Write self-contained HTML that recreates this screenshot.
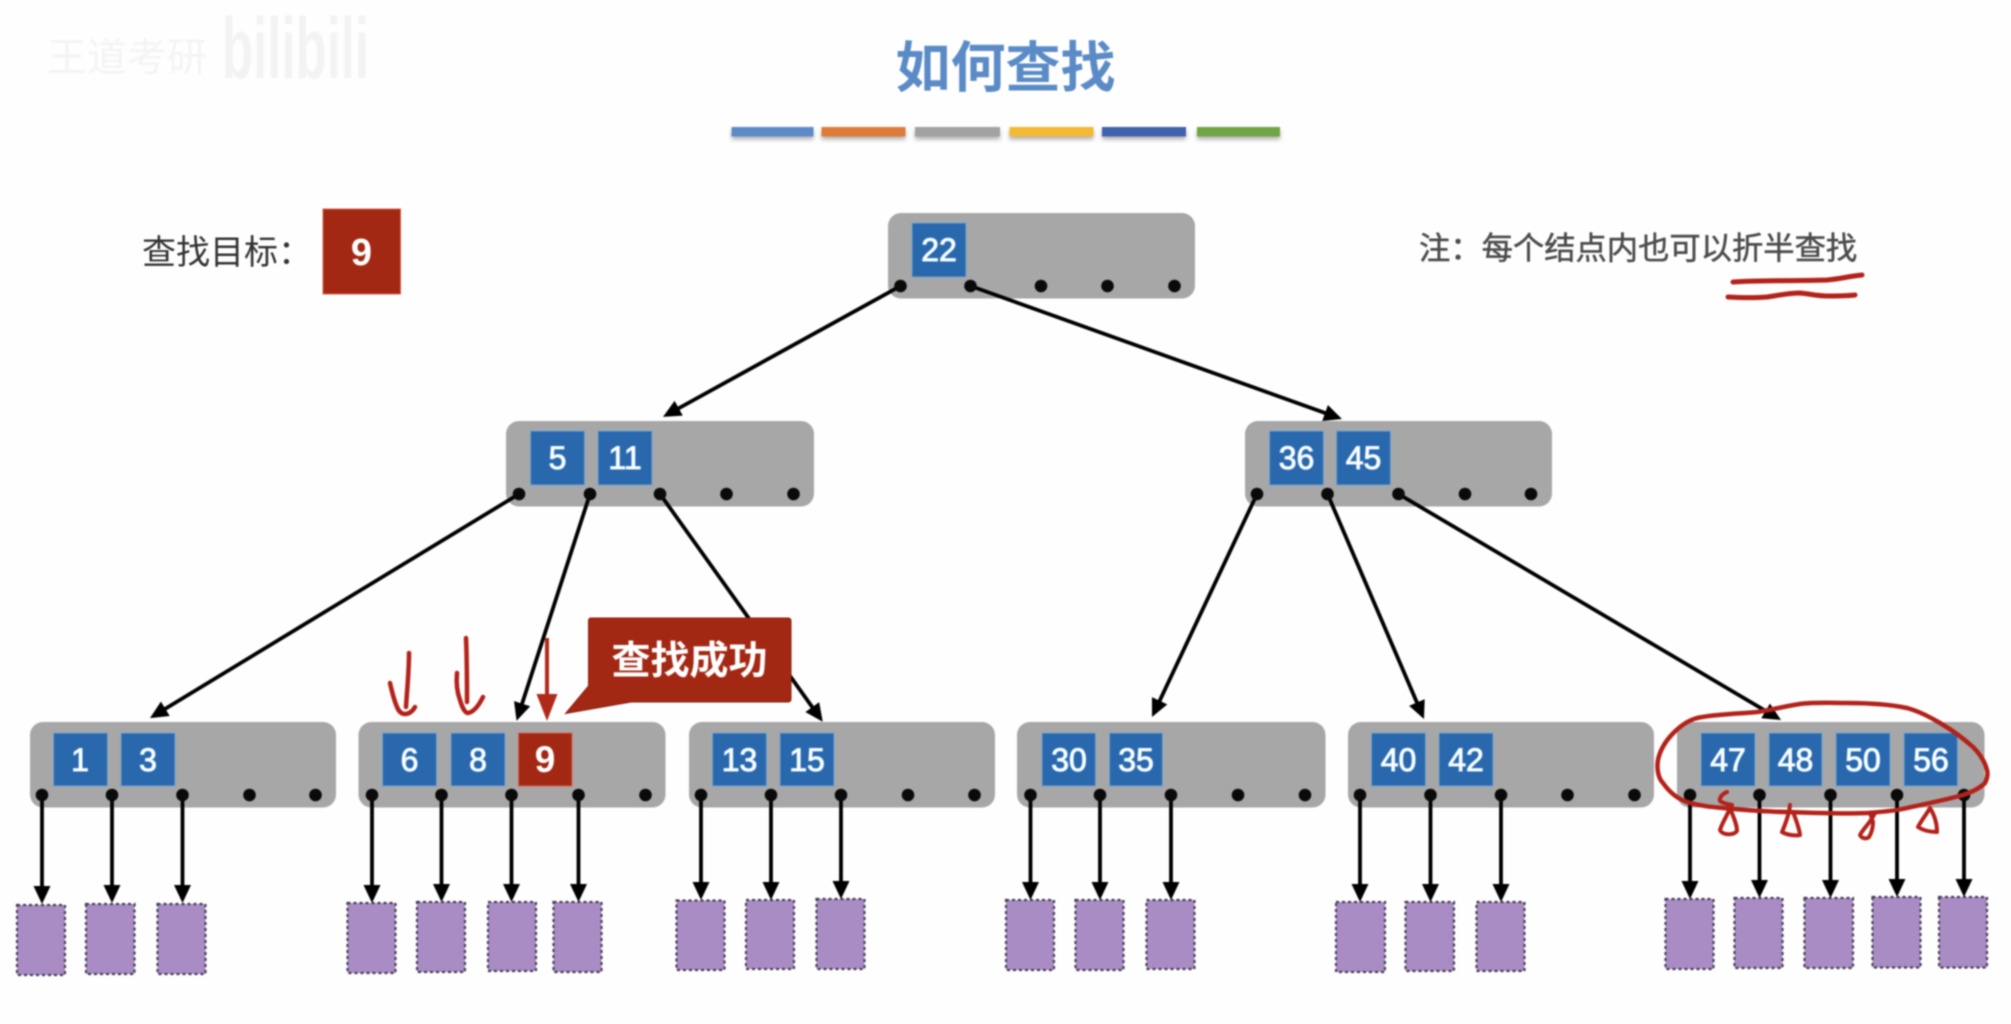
<!DOCTYPE html>
<html>
<head>
<meta charset="utf-8">
<style>
html,body{margin:0;padding:0;background:#fefefe;width:2011px;height:1024px;overflow:hidden}
svg{display:block;filter:blur(.75px)}
.cjk{font-family:"Liberation Sans","Noto Sans CJK SC",sans-serif}
.n{fill:#a7a7a7}
.k{fill:#2a68ad;stroke:#6fa3d2;stroke-width:1}
.r{fill:#a32814;stroke:#d9604f;stroke-width:1}
.t{font-family:"Liberation Sans",sans-serif;font-size:32px;fill:#fff;stroke:#e6f6ff;stroke-width:1;text-anchor:middle}
.a{stroke:#000;stroke-width:3.8;fill:none;marker-end:url(#ah)}
.p{fill:#a98cc3;stroke:#454058;stroke-width:2.2;stroke-dasharray:3 3}
.h{fill:none;stroke:#b3221a;stroke-linecap:round;stroke-linejoin:round}
</style>
</head>
<body>
<svg width="2011" height="1024" viewBox="0 0 2011 1024" xmlns="http://www.w3.org/2000/svg">
<defs>
<marker id="ah" markerUnits="userSpaceOnUse" markerWidth="20" markerHeight="20" refX="14" refY="9" orient="auto"><path d="M0,0.5 L18,9 L0,17.5 Z" fill="#000"/></marker>
<filter id="sh" x="-5%" y="-50%" width="110%" height="220%"><feDropShadow dx="0" dy="3" stdDeviation="2" flood-color="#000" flood-opacity=".3"/></filter>
</defs>

<!-- watermark -->
<text x="47" y="71" class="cjk" font-size="40" fill="#f4f4f4">王道考研</text>
<text x="222" y="78" font-family="Liberation Sans,sans-serif" font-size="86" font-weight="bold" fill="#f3f3f3" textLength="147" lengthAdjust="spacingAndGlyphs">bilibili</text>

<!-- title -->
<text x="1005.5" y="87" class="cjk" font-size="55" font-weight="bold" fill="#5b8bc6" text-anchor="middle">如何查找</text>
<g filter="url(#sh)">
<rect x="731.5" y="127" width="82" height="9.5" fill="#5b8bc8"/>
<rect x="821.5" y="127" width="84" height="9.5" fill="#dd7b38"/>
<rect x="915" y="127" width="85" height="9.5" fill="#a2a2a2"/>
<rect x="1009.5" y="127" width="84" height="9.5" fill="#f3b934"/>
<rect x="1102" y="127" width="84" height="9.5" fill="#3f62ae"/>
<rect x="1197" y="127" width="83" height="9.5" fill="#6fa544"/>
</g>

<!-- target -->
<text x="142" y="264" class="cjk" font-size="34" fill="#333">查找目标：</text>
<rect x="323" y="209" width="77.5" height="85" class="r"/>
<text x="361.5" y="265" font-family="Liberation Sans,sans-serif" font-size="38" font-weight="bold" fill="#fff" text-anchor="middle">9</text>

<!-- note -->
<text x="1419" y="259" class="cjk" font-size="31.3" fill="#4c4c4c" stroke="#4c4c4c" stroke-width=".5">注：每个结点内也可以折半查找</text>
<path d="M1733,282 C1765,280 1800,281 1827,280 C1840,279 1850,276 1862,275" class="h" stroke-width="5"/>
<path d="M1728,297 C1745,298 1755,298 1767,297 C1780,295 1790,293 1800,293 C1810,294 1818,296 1827,296 C1838,296 1846,296 1855,295" class="h" stroke-width="5"/>

<!-- nodes -->
<rect class="n" x="888" y="213" width="307" height="85.5" rx="13"/>
<rect class="n" x="506" y="421" width="308" height="85.5" rx="13"/>
<rect class="n" x="1245" y="421" width="307" height="85.5" rx="13"/>
<rect class="n" x="30" y="722" width="306" height="85.5" rx="13"/>
<rect class="n" x="358.5" y="722" width="307" height="85.5" rx="13"/>
<rect class="n" x="689" y="722" width="306" height="85.5" rx="13"/>
<rect class="n" x="1017" y="722" width="308.5" height="85.5" rx="13"/>
<rect class="n" x="1348" y="722" width="306" height="85.5" rx="13"/>
<rect class="n" x="1677" y="722" width="307.5" height="85.5" rx="13"/>

<!-- keys -->
<rect class="k" x="912" y="223" width="54" height="54"/><text class="t" x="939" y="261">22</text>
<rect class="k" x="530.5" y="431" width="54" height="54"/><text class="t" x="557.5" y="469">5</text>
<rect class="k" x="598" y="431" width="54" height="54"/><text class="t" x="625" y="469">11</text>
<rect class="k" x="1269.5" y="431" width="54" height="54"/><text class="t" x="1296.5" y="469">36</text>
<rect class="k" x="1336.5" y="431" width="54" height="54"/><text class="t" x="1363.5" y="469">45</text>

<rect class="k" x="53.5" y="733" width="54" height="53"/><text class="t" x="80" y="771">1</text>
<rect class="k" x="121" y="733" width="54" height="53"/><text class="t" x="148" y="771">3</text>
<rect class="k" x="382.5" y="733" width="54" height="53"/><text class="t" x="409.5" y="771">6</text>
<rect class="k" x="451" y="733" width="54" height="53"/><text class="t" x="478" y="771">8</text>
<rect class="r" x="518.5" y="733" width="53.5" height="53"/><text x="545" y="772" font-family="Liberation Sans,sans-serif" font-size="37" font-weight="bold" fill="#fff" text-anchor="middle">9</text>
<rect class="k" x="712.5" y="733" width="54" height="53"/><text class="t" x="739.5" y="771">13</text>
<rect class="k" x="780" y="733" width="54" height="53"/><text class="t" x="807" y="771">15</text>
<rect class="k" x="1042" y="733" width="53.5" height="53"/><text class="t" x="1069" y="771">30</text>
<rect class="k" x="1109.5" y="733" width="53" height="53"/><text class="t" x="1136" y="771">35</text>
<rect class="k" x="1371.5" y="733" width="54" height="53"/><text class="t" x="1398.5" y="771">40</text>
<rect class="k" x="1439" y="733" width="54" height="53"/><text class="t" x="1466" y="771">42</text>
<rect class="k" x="1701" y="733" width="54" height="53"/><text class="t" x="1728" y="771">47</text>
<rect class="k" x="1769" y="733" width="53" height="53"/><text class="t" x="1795.5" y="771">48</text>
<rect class="k" x="1836" y="733" width="54" height="53"/><text class="t" x="1863" y="771">50</text>
<rect class="k" x="1904" y="733" width="53.5" height="53"/><text class="t" x="1931" y="771">56</text>

<!-- leaves -->
<rect class="p" x="17" y="905" width="48" height="70"/>
<rect class="p" x="86" y="904" width="48.5" height="70"/>
<rect class="p" x="157.5" y="904" width="48" height="70"/>
<rect class="p" x="347.5" y="903" width="48" height="70"/>
<rect class="p" x="417" y="902" width="48" height="70"/>
<rect class="p" x="488" y="902" width="48" height="69"/>
<rect class="p" x="553.5" y="902" width="48" height="70"/>
<rect class="p" x="676.5" y="900.5" width="48" height="69.5"/>
<rect class="p" x="746" y="900" width="48" height="69"/>
<rect class="p" x="816.5" y="899" width="48" height="70"/>
<rect class="p" x="1006" y="900" width="48" height="70"/>
<rect class="p" x="1075.5" y="900" width="48" height="70"/>
<rect class="p" x="1146.5" y="900" width="48" height="69"/>
<rect class="p" x="1336" y="902" width="49" height="70"/>
<rect class="p" x="1405.5" y="902" width="48.5" height="69"/>
<rect class="p" x="1476.5" y="902" width="48" height="69"/>
<rect class="p" x="1665.5" y="899" width="48" height="70"/>
<rect class="p" x="1734.5" y="898" width="48" height="70"/>
<rect class="p" x="1804.5" y="898" width="48.5" height="70"/>
<rect class="p" x="1872.5" y="897" width="48" height="70.5"/>
<rect class="p" x="1939" y="897" width="48" height="70.5"/>

<!-- arrows -->
<g>
<line class="a" x1="900.5" y1="286" x2="666.5" y2="415"/>
<line class="a" x1="970.6" y1="286" x2="1338.2" y2="417.7"/>
<line class="a" x1="519" y1="494" x2="153.4" y2="716"/>
<line class="a" x1="590" y1="494" x2="517.8" y2="716.9"/>
<line class="a" x1="660" y1="494" x2="820.4" y2="718.5"/>
<line class="a" x1="1257" y1="494" x2="1153.7" y2="713.4"/>
<line class="a" x1="1327.5" y1="494" x2="1422.4" y2="715.3"/>
<line class="a" x1="1398.5" y1="494" x2="1777.6" y2="718"/>

<line class="a" x1="42" y1="795" x2="42" y2="900"/>
<line class="a" x1="112" y1="795" x2="112" y2="899"/>
<line class="a" x1="182.5" y1="795" x2="182.5" y2="899"/>
<line class="a" x1="372" y1="795" x2="372" y2="899"/>
<line class="a" x1="441.5" y1="795" x2="441.5" y2="898"/>
<line class="a" x1="511.5" y1="795" x2="511.5" y2="898"/>
<line class="a" x1="578.5" y1="795" x2="578.5" y2="898"/>
<line class="a" x1="701" y1="795" x2="701" y2="896"/>
<line class="a" x1="771" y1="795" x2="771" y2="896"/>
<line class="a" x1="841" y1="795" x2="841" y2="895"/>
<line class="a" x1="1030.5" y1="795" x2="1030.5" y2="896"/>
<line class="a" x1="1100" y1="795" x2="1100" y2="896"/>
<line class="a" x1="1171" y1="795" x2="1171" y2="896"/>
<line class="a" x1="1360" y1="795" x2="1360" y2="898"/>
<line class="a" x1="1430.5" y1="795" x2="1430.5" y2="898"/>
<line class="a" x1="1501" y1="795" x2="1501" y2="898"/>
<line class="a" x1="1690" y1="795" x2="1690" y2="895"/>
<line class="a" x1="1759.5" y1="795" x2="1759.5" y2="894"/>
<line class="a" x1="1830.5" y1="795" x2="1830.5" y2="894"/>
<line class="a" x1="1897" y1="795" x2="1897" y2="893"/>
<line class="a" x1="1964" y1="795" x2="1964" y2="893"/>
</g>

<!-- dots -->
<g fill="#0a0a0a">
<circle cx="900.5" cy="286" r="6.3"/><circle cx="970.5" cy="286" r="6.3"/><circle cx="1041" cy="286" r="6.3"/><circle cx="1107.5" cy="286" r="6.3"/><circle cx="1174.5" cy="286" r="6.3"/>
<circle cx="519" cy="494" r="6.3"/><circle cx="590" cy="494" r="6.3"/><circle cx="660" cy="494" r="6.3"/><circle cx="726.5" cy="494" r="6.3"/><circle cx="793.5" cy="494" r="6.3"/>
<circle cx="1257" cy="494" r="6.3"/><circle cx="1327.5" cy="494" r="6.3"/><circle cx="1398.5" cy="494" r="6.3"/><circle cx="1465" cy="494" r="6.3"/><circle cx="1531" cy="494" r="6.3"/>
<circle cx="42" cy="795" r="6.3"/><circle cx="112" cy="795" r="6.3"/><circle cx="182.5" cy="795" r="6.3"/><circle cx="249.5" cy="795" r="6.3"/><circle cx="315.5" cy="795" r="6.3"/>
<circle cx="372" cy="795" r="6.3"/><circle cx="441.5" cy="795" r="6.3"/><circle cx="511.5" cy="795" r="6.3"/><circle cx="578.5" cy="795" r="6.3"/><circle cx="645.5" cy="795" r="6.3"/>
<circle cx="701" cy="795" r="6.3"/><circle cx="771" cy="795" r="6.3"/><circle cx="841" cy="795" r="6.3"/><circle cx="908" cy="795" r="6.3"/><circle cx="974.5" cy="795" r="6.3"/>
<circle cx="1030.5" cy="795" r="6.3"/><circle cx="1100" cy="795" r="6.3"/><circle cx="1171" cy="795" r="6.3"/><circle cx="1238" cy="795" r="6.3"/><circle cx="1305" cy="795" r="6.3"/>
<circle cx="1360" cy="795" r="6.3"/><circle cx="1430.5" cy="795" r="6.3"/><circle cx="1501" cy="795" r="6.3"/><circle cx="1567.5" cy="795" r="6.3"/><circle cx="1634.5" cy="795" r="6.3"/>
<circle cx="1690" cy="795" r="6.3"/><circle cx="1759.5" cy="795" r="6.3"/><circle cx="1830.5" cy="795" r="6.3"/><circle cx="1897" cy="795" r="6.3"/><circle cx="1964" cy="795" r="6.3"/>
</g>

<!-- slide red arrow -->
<line x1="547" y1="638" x2="547" y2="696" stroke="#b02a1a" stroke-width="4"/>
<path d="M536.5,694 L557.5,694 L547,721 Z" fill="#b02a1a"/>

<!-- callout -->
<path d="M591,618 L788,618 Q791,618 791,621 L791,699 Q791,702 788,702 L631,702 L565.5,713.5 L588.5,686 L588.5,621 Q588.5,618 591,618 Z" fill="#a32814" stroke="#8a1f10" stroke-width="1"/>
<text x="689.5" y="674" class="cjk" font-size="39" font-weight="bold" fill="#fff" text-anchor="middle">查找成功</text>

<!-- hand drawn arrows -->
<path d="M409,653 C409,672 407,690 406,707 M390,683 C392,692 394,700 397,707 C399,712 402,714 405,714 C409,714 413,711 415,707" class="h" stroke-width="4.5"/>
<path d="M466,638 C467,660 467,682 467,702 M457,673 C456,684 457,692 460,700 C462,707 465,713 468,713 C474,712 479,705 483,697" class="h" stroke-width="4.5"/>

<!-- hand drawn ellipse -->
<path d="M1697,718 C1682,722 1662,740 1658,760 C1656,772 1660,780 1663,783 C1670,793 1678,799 1687,802 C1700,806 1712,807 1723,808 C1745,810 1768,812 1790,812 C1815,813 1842,814 1867,813 C1880,812 1895,811 1907,808 C1925,804 1945,800 1963,795 C1972,792 1980,788 1985,783 C1987,779 1988,774 1987,770 C1985,762 1980,754 1973,747 C1963,738 1952,730 1940,723 C1930,717 1918,711 1907,708 C1888,704 1867,703 1847,703 C1832,703 1816,702 1800,704 C1786,706 1771,710 1757,712 C1737,714 1716,714 1697,718 Z" class="h" stroke-width="4.5"/>
<path d="M1727,792 C1722,794 1719,798 1720,801 C1724,804 1728,804 1732,805 M1730,808 C1727,816 1722,823 1720,830 C1722,835 1733,836 1737,831 C1737,824 1733,816 1730,808" class="h" stroke-width="4"/>
<path d="M1790,805 C1789,815 1785,825 1782,832 C1787,835 1795,836 1800,835 C1799,827 1796,820 1793,812" class="h" stroke-width="4"/>
<path d="M1875,813 C1871,822 1863,829 1860,835 C1862,839 1867,839 1869,837 C1872,832 1873,827 1873,822 C1872,819 1871,816 1870,813" class="h" stroke-width="4"/>
<path d="M1930,808 C1926,815 1921,821 1918,827 C1924,831 1931,832 1937,832 C1937,825 1935,816 1930,808" class="h" stroke-width="4"/>
</svg>
</body>
</html>
